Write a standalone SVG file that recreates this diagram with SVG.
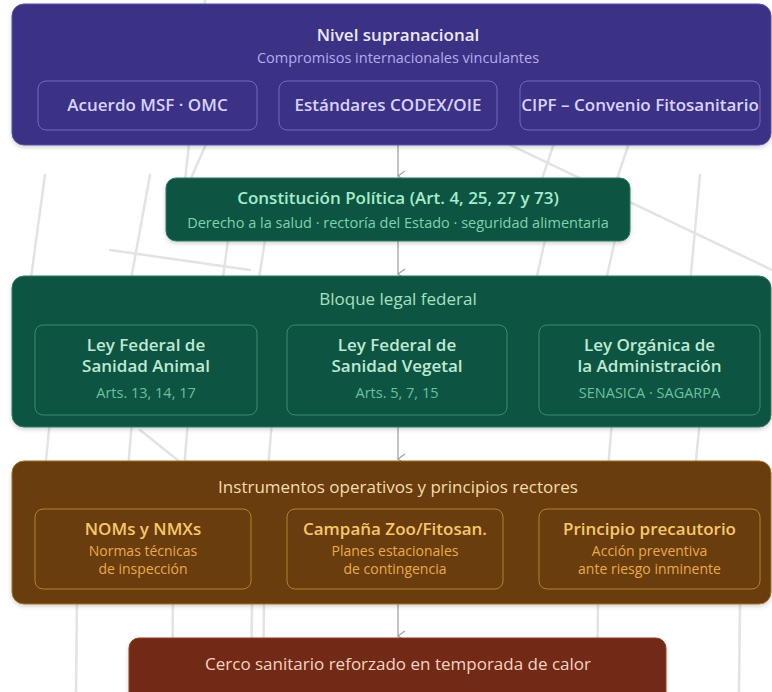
<svg xmlns="http://www.w3.org/2000/svg" width="772" height="692" viewBox="0 0 772 692">
<defs>
<style>
.bg{stroke:#e3e3e3;stroke-width:2.5;fill:none;stroke-linecap:round}
.t{font-family:"Open Sans","Noto Sans","Liberation Sans",sans-serif;text-anchor:middle}
.b{font-weight:600}
.m{font-weight:500}
.l{font-size:17px}
.s{font-size:14.5px}
.xs{font-size:14px}
.conn{stroke:#a3a3a3;stroke-width:1.3;fill:none}
.pu{fill:#3b3186;stroke:#5b52ad;stroke-width:1}
.pus{fill:none;stroke:#7068c6;stroke-width:1}
.gr{fill:#0b5443;stroke:#2c7c60;stroke-width:1}
.grs{fill:none;stroke:#3a8a6c;stroke-width:1}
.br{fill:#693c08;stroke:#a3701f;stroke-width:1}
.brs{fill:none;stroke:#b5812f;stroke-width:1}
.rd{fill:#722b13;stroke:#8e4026;stroke-width:1}
</style>
<marker id="arr" viewBox="0 0 12 12" refX="6" refY="10" markerWidth="12" markerHeight="12" markerUnits="userSpaceOnUse" orient="auto-start-reverse">
<path d="M1 3 L6 10 L11 3" fill="none" stroke="#a3a3a3" stroke-width="1.3"/>
</marker>
<filter id="sh" x="-5%" y="-10%" width="110%" height="125%">
<feDropShadow dx="0" dy="2" stdDeviation="2" flood-color="#000" flood-opacity="0.18"/>
</filter>
</defs>
<rect width="772" height="692" fill="#ffffff"/>
<g id="background-map">
<path class="bg" d="M205 0 L185 180"/>
<path class="bg" d="M210 135 L188 185"/>
<path class="bg" d="M555 140 L540 185"/>
<path class="bg" d="M630 140 L615 185"/>
<path class="bg" d="M500 140 L772 270"/>
<path class="bg" d="M150 175 L130 285"/>
<path class="bg" d="M45 175 L30 285"/>
<path class="bg" d="M700 175 L690 285"/>
<path class="bg" d="M110 250 L250 270"/>
<path class="bg" d="M228 240 L222 285"/>
<path class="bg" d="M265 240 L258 285"/>
<path class="bg" d="M545 240 L535 285"/>
<path class="bg" d="M615 240 L605 285"/>
<path class="bg" d="M50 420 L45 470"/>
<path class="bg" d="M132 420 L128 470"/>
<path class="bg" d="M188 420 L184 470"/>
<path class="bg" d="M272 420 L268 470"/>
<path class="bg" d="M140 430 L190 470"/>
<path class="bg" d="M612 420 L608 470"/>
<path class="bg" d="M700 420 L695 470"/>
<path class="bg" d="M77 600 L76 692"/>
<path class="bg" d="M173 600 L172 692"/>
<path class="bg" d="M252 600 L251 692"/>
<path class="bg" d="M264 600 L263 692"/>
<path class="bg" d="M598 600 L597 692"/>
<path class="bg" d="M740 600 L739 692"/>
</g>
<g id="connectors">
<path class="conn" d="M398 145 L398 176" marker-end="url(#arr)"/>
<path class="conn" d="M398 241 L398 274" marker-end="url(#arr)"/>
<path class="conn" d="M398 427 L398 459" marker-end="url(#arr)"/>
<path class="conn" d="M398 604 L398 636" marker-end="url(#arr)"/>
</g>
<g id="supranacional">
<rect class="pu" x="12" y="4" width="759" height="141" rx="12" filter="url(#sh)"/>
<text class="t b l" x="398" y="41" fill="#ece8ff">Nivel supranacional</text>
<text class="t s" x="398" y="63" fill="#b3acee">Compromisos internacionales vinculantes</text>
</g>
<g id="msf">
<rect class="pus" x="38" y="81" width="219" height="49" rx="8"/>
<text class="t b l" x="147.5" y="111" fill="#d8d2ff">Acuerdo MSF · OMC</text>
</g>
<g id="codex">
<rect class="pus" x="279" y="81" width="218" height="49" rx="8"/>
<text class="t b l" x="388" y="111" fill="#d8d2ff">Estándares CODEX/OIE</text>
</g>
<g id="cipf">
<rect class="pus" x="520" y="81" width="240" height="49" rx="8"/>
<text class="t b l" x="640" y="111" fill="#d8d2ff">CIPF – Convenio Fitosanitario</text>
</g>
<g id="constitucion">
<rect class="gr" x="166" y="178" width="464" height="63" rx="10" filter="url(#sh)"/>
<text class="t b l" x="398" y="204" fill="#a8ecca">Constitución Política (Art. 4, 25, 27 y 73)</text>
<text class="t s" x="398" y="228" fill="#7ed3ac">Derecho a la salud · rectoría del Estado · seguridad alimentaria</text>
</g>
<g id="bloque-legal">
<rect class="gr" x="12" y="276" width="759" height="151" rx="12" filter="url(#sh)"/>
<text class="t m l" x="398" y="305" fill="#a8e0c2">Bloque legal federal</text>
</g>
<g id="lfsa">
<rect class="grs" x="35" y="325" width="222" height="90" rx="8"/>
<text class="t b l" x="146" y="351" fill="#bfe9d3">Ley Federal de</text>
<text class="t b l" x="146" y="372" fill="#bfe9d3">Sanidad Animal</text>
<text class="t s" x="146" y="398" fill="#6cc09e">Arts. 13, 14, 17</text>
</g>
<g id="lfsv">
<rect class="grs" x="287" y="325" width="220" height="90" rx="8"/>
<text class="t b l" x="397" y="351" fill="#bfe9d3">Ley Federal de</text>
<text class="t b l" x="397" y="372" fill="#bfe9d3">Sanidad Vegetal</text>
<text class="t s" x="397" y="398" fill="#6cc09e">Arts. 5, 7, 15</text>
</g>
<g id="loapf">
<rect class="grs" x="539" y="325" width="221" height="90" rx="8"/>
<text class="t b l" x="649.5" y="351" fill="#bfe9d3">Ley Orgánica de</text>
<text class="t b l" x="649.5" y="372" fill="#bfe9d3">la Administración</text>
<text class="t s" x="649.5" y="398" fill="#6cc09e">SENASICA · SAGARPA</text>
</g>
<g id="instrumentos">
<rect class="br" x="12" y="461" width="759" height="143" rx="12" filter="url(#sh)"/>
<text class="t m l" x="398" y="493" fill="#f4dcae">Instrumentos operativos y principios rectores</text>
</g>
<g id="noms">
<rect class="brs" x="35" y="509" width="216" height="80" rx="8"/>
<text class="t b l" x="143" y="535" fill="#f7c76b">NOMs y NMXs</text>
<text class="t xs" x="143" y="556" fill="#e9aa4c">Normas técnicas</text>
<text class="t xs" x="143" y="574" fill="#e9aa4c">de inspección</text>
</g>
<g id="campana">
<rect class="brs" x="287" y="509" width="216" height="80" rx="8"/>
<text class="t b l" x="395" y="535" fill="#f7c76b">Campaña Zoo/Fitosan.</text>
<text class="t xs" x="395" y="556" fill="#e9aa4c">Planes estacionales</text>
<text class="t xs" x="395" y="574" fill="#e9aa4c">de contingencia</text>
</g>
<g id="precautorio">
<rect class="brs" x="539" y="509" width="221" height="80" rx="8"/>
<text class="t b l" x="649.5" y="535" fill="#f7c76b">Principio precautorio</text>
<text class="t xs" x="649.5" y="556" fill="#e9aa4c">Acción preventiva</text>
<text class="t xs" x="649.5" y="574" fill="#e9aa4c">ante riesgo inminente</text>
</g>
<g id="cerco">
<rect class="rd" x="129" y="638" width="537" height="70" rx="10" filter="url(#sh)"/>
<text class="t m l" x="398" y="670" fill="#f7d3c2">Cerco sanitario reforzado en temporada de calor</text>
</g>
</svg>
